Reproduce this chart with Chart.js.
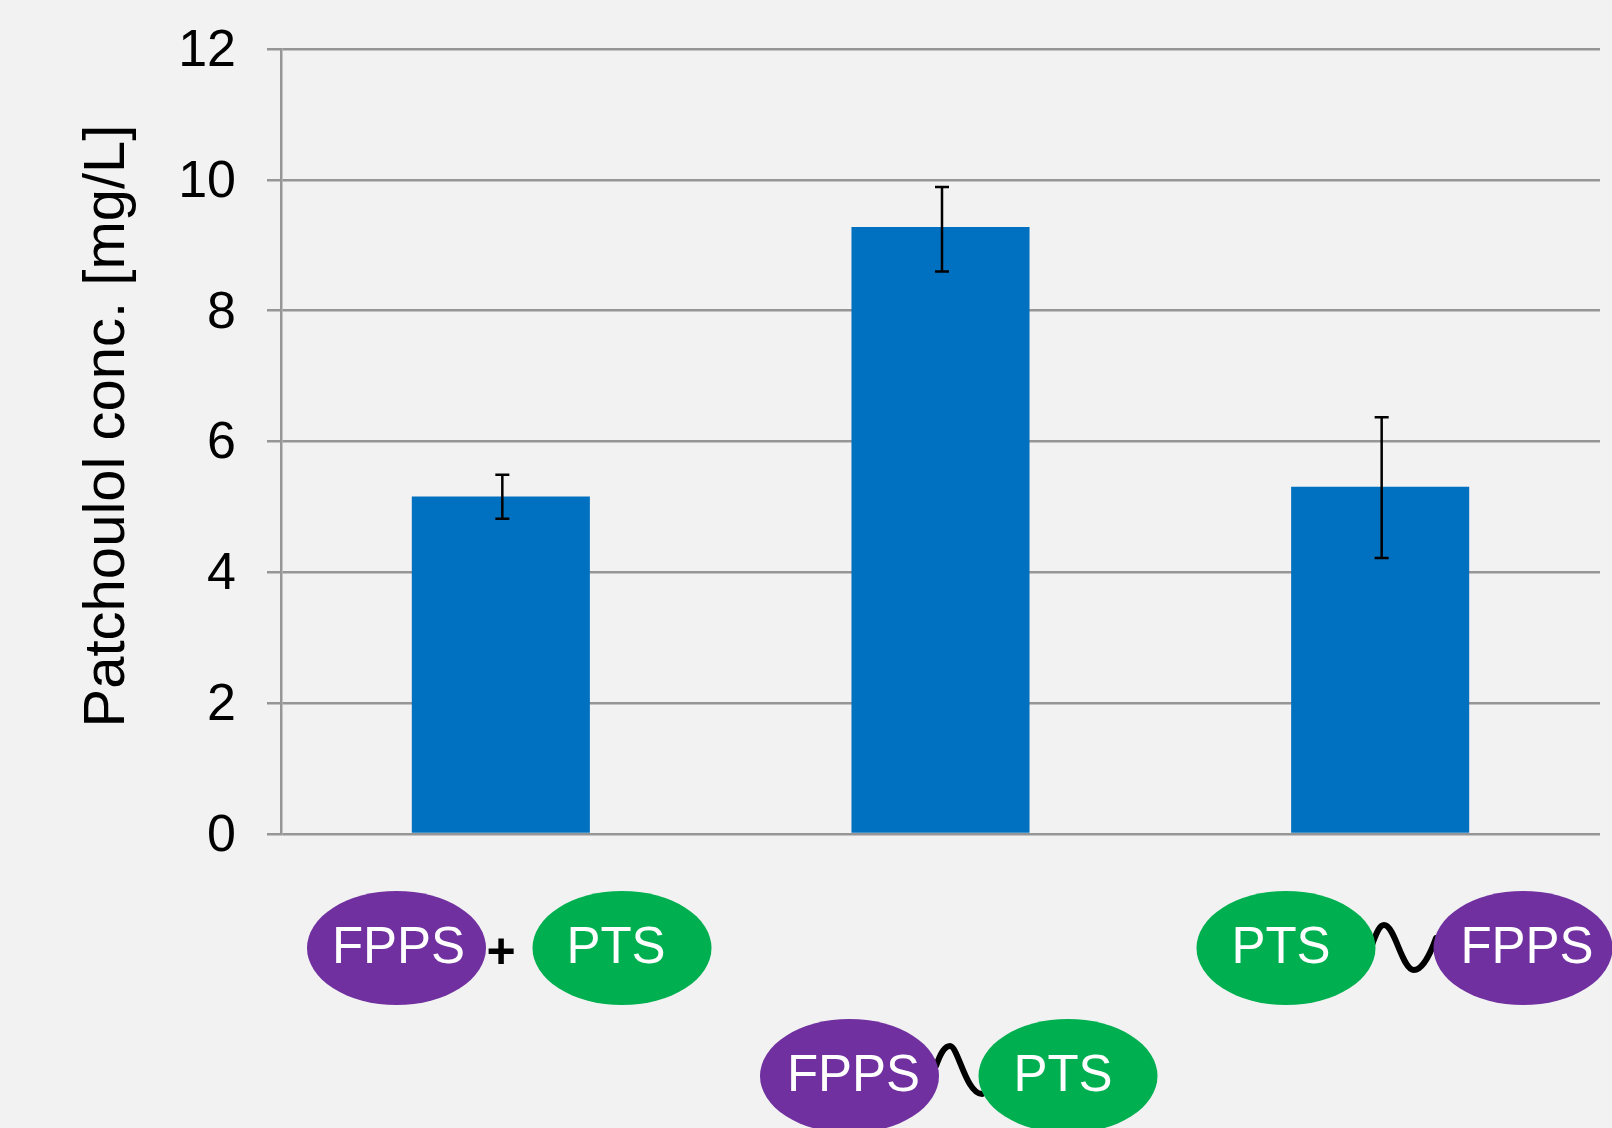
<!DOCTYPE html>
<html>
<head>
<meta charset="utf-8">
<title>Patchoulol</title>
<script src="https://cdn.jsdelivr.net/npm/chart.js@4"></script>
<style>
  html, body { margin: 0; padding: 0; background: #f2f2f2; overflow: hidden; }
  canvas { display: block; }
</style>
</head>
<body>
<canvas id="chart" width="1612" height="1128"></canvas>
<script>
const categories = ['FPPS + PTS', 'FPPS~PTS', 'PTS~FPPS'];
const concValues = [5.16, 9.28, 5.31];
const errLow = [4.82, 8.60, 4.22];
const errHigh = [5.49, 9.89, 6.37];
const yTicks = [0, 2, 4, 6, 8, 10, 12];
const yTitle = 'Patchoulol conc. [mg/L]';

const FONT = '"Liberation Sans", Arial, sans-serif';
const PURPLE = '#7030a0';
const GREEN = '#00b050';
const GRID = '#969696';

// error bars, read through the y scale
const errorBars = {
    id: 'errorBars',
    afterDatasetsDraw(chart) {
        const ctx = chart.ctx;
        const y = chart.scales.y;
        const bars = chart.getDatasetMeta(0).data;
        ctx.save();
        ctx.strokeStyle = '#000';
        ctx.lineWidth = 2.5;
        bars.forEach((bar, i) => {
            const x = bar.x + 1.5;
            const top = y.getPixelForValue(errHigh[i]);
            const bottom = y.getPixelForValue(errLow[i]);
            ctx.beginPath();
            ctx.moveTo(x, top);
            ctx.lineTo(x, bottom);
            ctx.moveTo(x - 7, top);
            ctx.lineTo(x + 7, top);
            ctx.moveTo(x - 7, bottom);
            ctx.lineTo(x + 7, bottom);
            ctx.stroke();
        });
        ctx.restore();
    }
};

function protein(ctx, cx, cy, color, text, dx) {
    ctx.fillStyle = color;
    ctx.beginPath();
    ctx.ellipse(cx, cy, 89.5, 57, 0, 0, Math.PI * 2);
    ctx.fill();
    ctx.fillStyle = '#fff';
    ctx.font = '51px ' + FONT;
    ctx.textAlign = 'center';
    ctx.textBaseline = 'middle';
    ctx.fillText(text, cx + dx, cy + 1);
}

function linker(ctx, pts) {
    ctx.strokeStyle = '#000';
    ctx.lineWidth = 6;
    ctx.lineCap = 'round';
    ctx.beginPath();
    ctx.moveTo(pts[0], pts[1]);
    for (let i = 2; i < pts.length; i += 6) {
        ctx.bezierCurveTo(pts[i], pts[i + 1], pts[i + 2], pts[i + 3], pts[i + 4], pts[i + 5]);
    }
    ctx.stroke();
}

// protein cartoons under the bars and the axis title
const cartoons = {
    id: 'cartoons',
    afterDraw(chart) {
        const ctx = chart.ctx;
        ctx.save();

        protein(ctx, 396.5, 948, PURPLE, 'FPPS', 2);
        protein(ctx, 622, 948, GREEN, 'PTS', -6);
        ctx.fillStyle = '#000';
        ctx.font = 'bold 50px ' + FONT;
        ctx.textAlign = 'center';
        ctx.textBaseline = 'middle';
        ctx.fillText('+', 501, 954);

        linker(ctx, [936, 1066, 941, 1052, 945, 1046, 950, 1046, 958, 1046, 966, 1094, 982, 1094]);
        protein(ctx, 849.5, 1076, PURPLE, 'FPPS', 4);
        protein(ctx, 1068, 1076, GREEN, 'PTS', -5);

        linker(ctx, [1372, 945, 1377, 931, 1380, 925, 1384, 925, 1395, 925, 1402, 970, 1414, 970, 1422, 970, 1430, 955, 1436, 938]);
        protein(ctx, 1286, 948, GREEN, 'PTS', -5);
        protein(ctx, 1523, 948, PURPLE, 'FPPS', 4);

        ctx.translate(108, 426);
        ctx.rotate(-Math.PI / 2);
        ctx.fillStyle = '#000';
        ctx.font = '58px ' + FONT;
        ctx.fillText(yTitle, 0, 0);
        ctx.restore();
    }
};

new Chart(document.getElementById('chart').getContext('2d'), {
    type: 'bar',
    data: {
        labels: categories,
        datasets: [{
            label: 'Patchoulol conc.',
            data: concValues,
            backgroundColor: '#0070c0',
            borderWidth: 0,
            categoryPercentage: 1,
            barPercentage: 0.405
        }]
    },
    options: {
        responsive: false,
        animation: false,
        layout: { padding: { top: 49, right: 12, bottom: 286, left: 0 } },
        plugins: {
            legend: { display: false },
            title: { display: false },
            tooltip: { enabled: false }
        },
        scales: {
            x: {
                grid: { display: false },
                border: { display: false },
                ticks: { display: false }
            },
            y: {
                min: 0,
                max: 12,
                afterBuildTicks(axis) {
                    axis.ticks = yTicks.map(v => ({ value: v }));
                },
                afterFit(axis) {
                    axis.width = 281;
                    axis.paddingTop = 0;
                    axis.paddingBottom = 0;
                },
                grid: { color: GRID, lineWidth: 2.5, tickLength: 14 },
                border: { color: GRID, width: 2.5 },
                ticks: {
                    color: '#000',
                    padding: 31,
                    // empty first line pushes the number down a little
                    callback: v => ['', String(v)],
                    font: { family: FONT, size: 52, lineHeight: 0.1 }
                }
            }
        }
    },
    plugins: [errorBars, cartoons]
});
</script>
</body>
</html>
